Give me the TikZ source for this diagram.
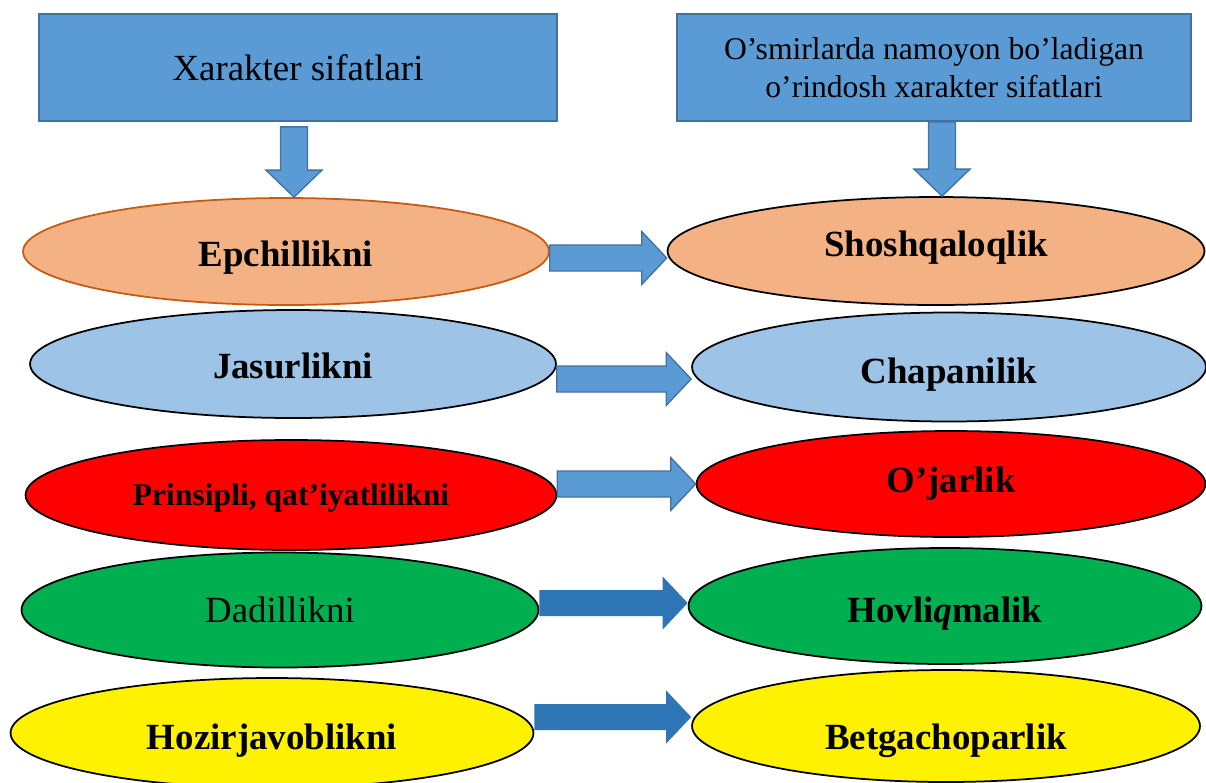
\documentclass[tikz,border=0pt]{standalone}
\usepackage{fontspec}
\setmainfont{Liberation Serif}
\usetikzlibrary{calc,shapes.geometric}
\definecolor{boxblue}{HTML}{5B9BD5}
\definecolor{boxline}{HTML}{41719C}
\definecolor{darkblue}{HTML}{2E75B6}
\definecolor{peach}{HTML}{F4B183}
\definecolor{peachline}{HTML}{C55A11}
\definecolor{lightblue}{HTML}{9DC3E6}
\definecolor{grass}{HTML}{00B050}
\def\rightarr[#1](#2)(#3){\draw[#1] let \p1=(#2), \p2=(#3) in (\x1,\y2+0.26cm) -- (\x2-0.5cm,\y2+0.26cm) -- (\x2-0.5cm,\y2+0.53cm) -- (\x2,\y2) -- (\x2-0.5cm,\y2-0.53cm) -- (\x2-0.5cm,\y2-0.26cm) -- (\x1,\y2-0.26cm) -- cycle;}
\def\downarr[#1](#2)(#3){\draw[#1] let \p1=(#2), \p2=(#3) in (\x2-0.27cm,\y1) -- (\x2-0.27cm,\y2+0.54cm) -- (\x2-0.56cm,\y2+0.54cm) -- (\x2,\y2) -- (\x2+0.56cm,\y2+0.54cm) -- (\x2+0.27cm,\y2+0.54cm) -- (\x2+0.27cm,\y1) -- cycle;}

\begin{document}
\begin{tikzpicture}[x=0.02cm, y=-0.02cm,
	headbox/.style={draw=boxline, fill=boxblue, line width=1pt, minimum height=2.14cm, align=center},
	oval/.style={ellipse, draw=black, line width=1pt, inner sep=0pt},
	lbl/.style={inner sep=0pt, font=\fontsize{21}{25}\selectfont\bfseries},
	lightarr/.style={fill=boxblue, draw=boxline, line width=0.75pt},
	darkarr/.style={fill=darkblue, draw=none}]
	%%%%% START %%%%%
	\useasboundingbox (0,0) rectangle (1206,782);
	
	\node[headbox, minimum width=10.36cm, font=\fontsize{21}{25}\selectfont] (xs) at (298,67.5) {Xarakter sifatlari};
	\node[headbox, minimum width=10.28cm, font=\fontsize{18}{21.5}\selectfont] (os) at (934,67.5) {O’smirlarda namoyon bo’ladigan\\o’rindosh xarakter sifatlari};
	
	\node[oval, fill=peach, draw=peachline, minimum width=10.52cm, minimum height=2.14cm,
		label={[lbl, yshift=-0.12cm]center:Epchillikni}] (l1) at (286,251.5) {};
	\node[oval, fill=lightblue, minimum width=10.52cm, minimum height=2.16cm,
		label={[lbl, yshift=-0.04cm]center:Jasurlikni}] (l2) at (293,364) {};
	\node[oval, fill=red, minimum width=10.62cm, minimum height=2.2cm,
		label={[lbl, yshift=-0.06cm, font=\fontsize{18}{22}\selectfont\bfseries]center:Prinsipli, qat’iyatlilikni}] (l3) at (291,495) {};
	\node[oval, fill=grass, minimum width=10.34cm, minimum height=2.3cm,
		label={[lbl, font=\fontsize{21}{25}\selectfont]center:Dadillikni}] (l4) at (280,610) {};
	\node[oval, fill=yellow, minimum width=10.46cm, minimum height=2.2cm,
		label={[lbl, yshift=-0.16cm]center:Hozirjavoblikni}] (l5) at (272,733) {};
	
	\node[oval, fill=peach, minimum width=10.74cm, minimum height=2.16cm,
		label={[lbl, yshift=0.06cm]center:Shoshqaloqlik}] (r1) at (936,251) {};
	\node[oval, fill=lightblue, minimum width=10.28cm, minimum height=2.18cm,
		label={[lbl, yshift=-0.16cm]center:Chapanilik}] (r2) at (949,367) {};
	\node[oval, fill=red, minimum width=10.18cm, minimum height=2.12cm,
		label={[lbl]center:O’jarlik}] (r3) at (951,484) {};
	\node[oval, fill=grass, minimum width=10.26cm, minimum height=2.32cm,
		label={[lbl, yshift=-0.16cm]center:Hovli\textit{q}malik}] (r4) at (945,606) {};
	\node[oval, fill=yellow, minimum width=10.16cm, minimum height=2.24cm,
		label={[lbl, yshift=-0.3cm]center:Betgachoparlik}] (r5) at (946,726) {};
	
	% arrows down from the headings
	\downarr[lightarr]([yshift=-0.1cm]xs.south)([xshift=0.16cm]l1.north)
	\downarr[lightarr](os.south)([xshift=0.12cm]r1.north)
	
	% arrows across
	\rightarr[lightarr](l1.east)([yshift=-0.14cm]r1.west)
	\rightarr[lightarr](l2.east)([yshift=-0.24cm]r2.west)
	\rightarr[lightarr](l3.east)(r3.west)
	\rightarr[darkarr](l4.east)([yshift=0.06cm]r4.west)
	\rightarr[darkarr](l5.east)([yshift=0.18cm]r5.west)
	
	%%%%% END %%%%%
\end{tikzpicture}
\end{document}
